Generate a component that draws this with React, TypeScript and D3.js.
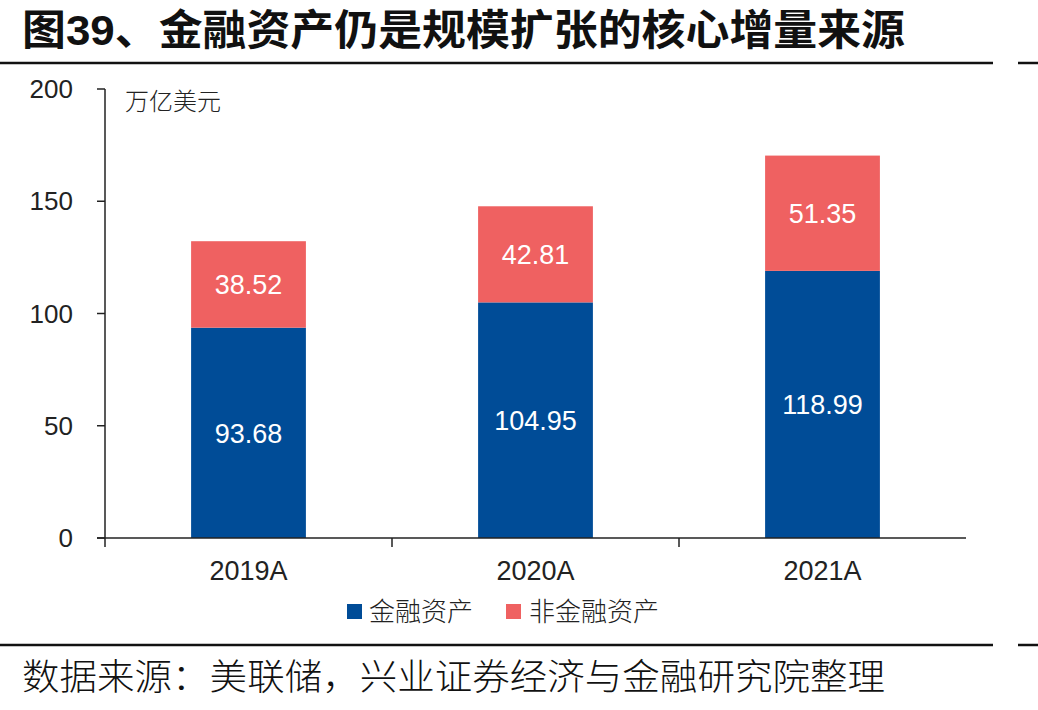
import React from "react";
import * as d3 from "d3";

const categories = ["2019A", "2020A", "2021A"];
const financial = [93.68, 104.95, 118.99];
const nonFinancial = [38.52, 42.81, 51.35];
const seriesNames = ["金融资产", "非金融资产"];
const yTicks = [0, 50, 100, 150, 200];
const title = "图39、金融资产仍是规模扩张的核心增量来源";
const unit = "万亿美元";
const source = "数据来源：美联储，兴业证券经济与金融研究院整理";

const W = 1038;
const H = 710;
const BLUE = "#004C97";
const RED = "#EF6161";
const FONT = "'Liberation Sans', Arial, 'Noto Sans CJK SC', sans-serif";
const CJK = "'Noto Sans CJK SC', sans-serif";

export default function App() {
  const x0 = 105, x1 = 966, yTop = 89, yBot = 538;
  const x = d3.scaleBand().domain(categories).range([x0, x1]).paddingInner(0.6).paddingOuter(0.3);
  const y = d3.scaleLinear().domain([0, 200]).range([yBot, yTop]);
  const bandStep = (x1 - x0) / categories.length;
  const catTicks = d3.range(categories.length).map((i) => x0 + i * bandStep);

  return (
    <svg width={W} height={H} style={{ position: "absolute", left: 0, top: 0, background: "#fff" }} fontFamily={FONT}>
      <text x={22} y={45} fontSize={42} fontWeight="bold" fill="#111" textLength={883} lengthAdjust="spacingAndGlyphs">{title}</text>
      <line x1={0} x2={993} y1={63} y2={63} stroke="#111" strokeWidth={2.5} />
      <line x1={1018} x2={1038} y1={63} y2={63} stroke="#111" strokeWidth={2.5} />

      {categories.map((c, i) => {
        const bx = x(c)!;
        const bw = x.bandwidth();
        const f = financial[i];
        const n = nonFinancial[i];
        return (
          <g key={c}>
            <rect x={bx} y={y(f)} width={bw} height={y(0) - y(f)} fill={BLUE} />
            <rect x={bx} y={y(f + n)} width={bw} height={y(f) - y(f + n)} fill={RED} />
            <text x={bx + bw / 2} y={(y(0) + y(f)) / 2 + 10} textAnchor="middle" fontSize={27} fill="#fff">{f.toFixed(2)}</text>
            <text x={bx + bw / 2} y={(y(f) + y(f + n)) / 2 + 10} textAnchor="middle" fontSize={27} fill="#fff">{n.toFixed(2)}</text>
          </g>
        );
      })}

      <line x1={x0} x2={x0} y1={yTop} y2={yBot} stroke="#222" strokeWidth={1.5} />
      <line x1={x0 - 8} x2={x1} y1={yBot} y2={yBot} stroke="#222" strokeWidth={1.5} />
      {yTicks.map((t) => (
        <g key={t}>
          <line x1={x0 - 8} x2={x0} y1={y(t)} y2={y(t)} stroke="#222" strokeWidth={1.5} />
          <text x={73} y={y(t) + 9} textAnchor="end" fontSize={26} fill="#222">{t}</text>
        </g>
      ))}
      {catTicks.map((t, i) => (
        <line key={i} x1={t} x2={t} y1={yBot} y2={yBot + 9} stroke="#222" strokeWidth={1.5} />
      ))}
      {categories.map((c) => (
        <text key={c} x={x(c)! + x.bandwidth() / 2} y={580} textAnchor="middle" fontSize={27} fill="#222">{c}</text>
      ))}
      <text x={125} y={110} fontSize={24} fill="#222" fontFamily={CJK} fontWeight={300}>{unit}</text>

      <rect x={347} y={604} width={15} height={15} fill={BLUE} />
      <text x={369} y={621} fontSize={26} fill="#222" fontFamily={CJK} fontWeight={300}>{seriesNames[0]}</text>
      <rect x={506} y={604} width={15} height={15} fill={RED} />
      <text x={529} y={621} fontSize={26} fill="#222" fontFamily={CJK} fontWeight={300}>{seriesNames[1]}</text>

      <line x1={0} x2={993} y1={645} y2={645} stroke="#111" strokeWidth={2.5} />
      <line x1={1018} x2={1038} y1={645} y2={645} stroke="#111" strokeWidth={2.5} />
      <text x={22} y={690} fontSize={36} fill="#111" fontFamily={CJK} fontWeight={300} textLength={863} lengthAdjust="spacingAndGlyphs">{source}</text>
    </svg>
  );
}
